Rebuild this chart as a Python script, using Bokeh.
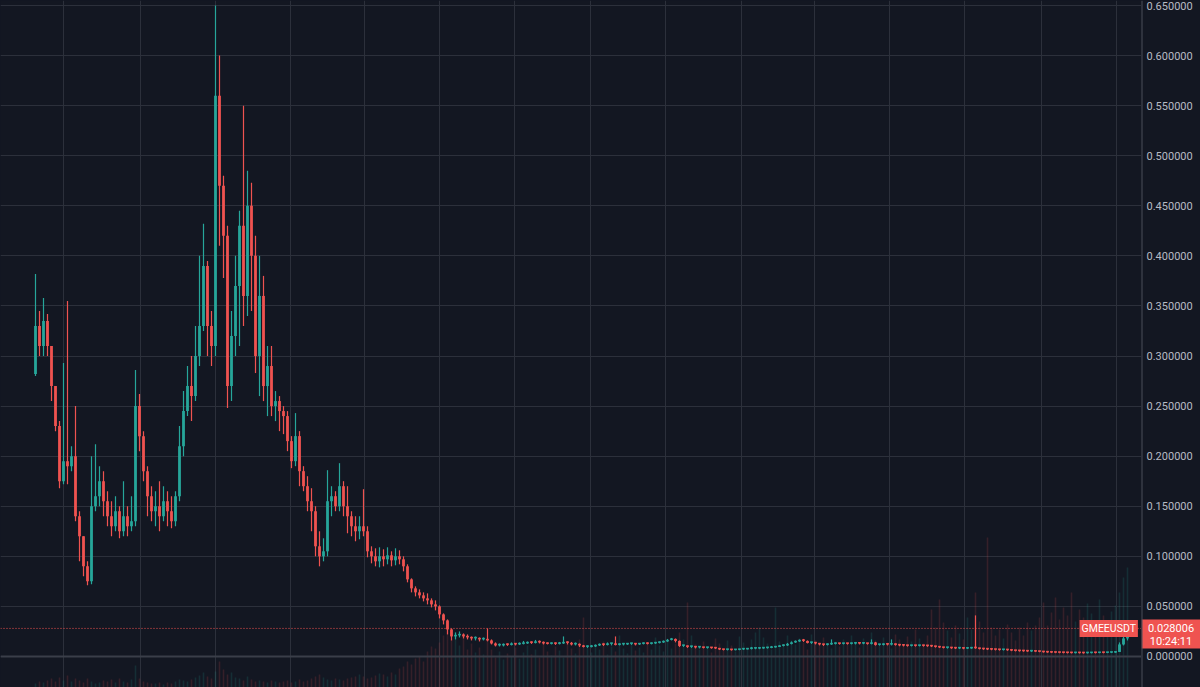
from bokeh.plotting import figure
from bokeh.layouts import row
from bokeh.models import Range1d, FixedTicker, Span, Label, ColumnDataSource
from bokeh.embed import file_html
from bokeh.resources import INLINE
from bokeh.core.properties import value

symbol = "GMEEUSDT"
last_price = 0.028006
countdown = "10:24:11"
first_open = 0.282

close = [
    0.33, 0.31, 0.335, 0.31, 0.27, 0.23, 0.175, 0.195, 0.19, 0.2,
    0.14, 0.12, 0.09, 0.075, 0.15, 0.16, 0.175, 0.155, 0.14, 0.13,
    0.145, 0.125, 0.14, 0.13, 0.135, 0.25, 0.22, 0.185, 0.16, 0.145,
    0.15, 0.14, 0.155, 0.145, 0.135, 0.16, 0.21, 0.245, 0.27, 0.26,
    0.3, 0.33, 0.39, 0.33, 0.31, 0.56, 0.47, 0.42, 0.27, 0.32,
    0.37, 0.43, 0.36, 0.45, 0.40, 0.30, 0.36, 0.27, 0.29, 0.25,
    0.255, 0.245, 0.24, 0.215, 0.195, 0.22, 0.185, 0.17, 0.155, 0.145,
    0.11, 0.1, 0.105, 0.155, 0.16, 0.15, 0.17, 0.15, 0.14, 0.13,
    0.125, 0.13, 0.125, 0.105, 0.1, 0.095, 0.1, 0.097, 0.101, 0.096,
    0.1, 0.097, 0.09, 0.077, 0.068, 0.064, 0.061, 0.058, 0.056, 0.052,
    0.05, 0.042, 0.036, 0.027, 0.02, 0.021, 0.022, 0.02, 0.019, 0.018,
    0.018, 0.017, 0.017, 0.016, 0.013, 0.011, 0.011, 0.012, 0.0115, 0.0125,
    0.012, 0.0125, 0.013, 0.014, 0.0135, 0.015, 0.014, 0.013, 0.0125, 0.013,
    0.0125, 0.013, 0.014, 0.0135, 0.012, 0.0125, 0.011, 0.0095, 0.0095, 0.01,
    0.011, 0.012, 0.0115, 0.0125, 0.0125, 0.0115, 0.012, 0.012, 0.0125, 0.0125,
    0.012, 0.0125, 0.013, 0.0125, 0.013, 0.0135, 0.014, 0.015, 0.0165, 0.0175,
    0.0155, 0.0105, 0.0105, 0.0095, 0.0095, 0.009, 0.009, 0.0085, 0.0085, 0.0083,
    0.008, 0.007, 0.0065, 0.0065, 0.0063, 0.0065, 0.007, 0.007, 0.0075, 0.0078,
    0.0078, 0.008, 0.0083, 0.0085, 0.009, 0.0095, 0.0105, 0.011, 0.0125, 0.014,
    0.015, 0.016, 0.0155, 0.0135, 0.0135, 0.013, 0.012, 0.0115, 0.012, 0.0125,
    0.013, 0.0125, 0.0128, 0.0125, 0.0128, 0.013, 0.0128, 0.013, 0.0125, 0.014,
    0.0115, 0.0115, 0.012, 0.0118, 0.0125, 0.0115, 0.011, 0.0108, 0.0105, 0.0108,
    0.0105, 0.0108, 0.0105, 0.0103, 0.01, 0.0095, 0.009, 0.0085, 0.0085, 0.0082,
    0.008, 0.008, 0.0078, 0.008, 0.0085, 0.0082, 0.0075, 0.0072, 0.007, 0.0068,
    0.0066, 0.0064, 0.0065, 0.0062, 0.0058, 0.0055, 0.0053, 0.0052, 0.005, 0.005,
    0.0048, 0.0046, 0.0042, 0.004, 0.0038, 0.0037, 0.0036, 0.0035, 0.0034, 0.0033,
    0.0034, 0.0033, 0.0032, 0.0033, 0.0035, 0.0034, 0.0036, 0.0035, 0.0037, 0.0038,
    0.0045, 0.012, 0.018, 0.028006,
]

high = [
    0.382, 0.345, 0.358, 0.342, 0.31, 0.27, 0.235, 0.293, 0.355, 0.21,
    0.25, 0.145, 0.12, 0.095, 0.2, 0.212, 0.19, 0.185, 0.165, 0.155,
    0.16, 0.15, 0.175, 0.15, 0.16, 0.286, 0.262, 0.225, 0.19, 0.17,
    0.165, 0.175, 0.17, 0.165, 0.16, 0.165, 0.23, 0.265, 0.29, 0.3,
    0.33, 0.4, 0.432, 0.395, 0.345, 0.65, 0.6, 0.48, 0.43, 0.345,
    0.4, 0.445, 0.55, 0.485, 0.473, 0.42, 0.4, 0.38, 0.31, 0.31,
    0.265, 0.26, 0.25, 0.245, 0.22, 0.243, 0.225, 0.19, 0.18, 0.168,
    0.15, 0.125, 0.118, 0.186, 0.17, 0.165, 0.193, 0.175, 0.17, 0.145,
    0.14, 0.14, 0.167, 0.13, 0.11, 0.108, 0.109, 0.107, 0.109, 0.105,
    0.108, 0.106, 0.1, 0.092, 0.078, 0.07, 0.067, 0.064, 0.063, 0.058,
    0.056, 0.051, 0.043, 0.037, 0.028, 0.024, 0.025, 0.023, 0.022, 0.02,
    0.02, 0.019, 0.019, 0.028, 0.017, 0.014, 0.013, 0.013, 0.013, 0.014,
    0.013, 0.014, 0.0155, 0.015, 0.015, 0.0165, 0.016, 0.015, 0.014, 0.014,
    0.014, 0.0145, 0.02, 0.015, 0.0145, 0.014, 0.013, 0.0115, 0.011, 0.0115,
    0.012, 0.013, 0.013, 0.014, 0.0135, 0.02, 0.013, 0.0135, 0.0135, 0.0135,
    0.0135, 0.0135, 0.014, 0.014, 0.014, 0.0145, 0.015, 0.016, 0.0175, 0.0185,
    0.018, 0.016, 0.0115, 0.011, 0.0105, 0.01, 0.0095, 0.0095, 0.0095, 0.009,
    0.009, 0.0085, 0.0075, 0.0072, 0.007, 0.007, 0.0075, 0.0078, 0.008, 0.0095,
    0.0085, 0.0087, 0.009, 0.0095, 0.0105, 0.0105, 0.0112, 0.012, 0.0135, 0.015,
    0.016, 0.017, 0.0175, 0.016, 0.0145, 0.014, 0.0135, 0.0125, 0.013, 0.017,
    0.014, 0.0135, 0.0135, 0.0135, 0.0138, 0.014, 0.0138, 0.014, 0.0135, 0.017,
    0.0145, 0.0125, 0.013, 0.0128, 0.017, 0.013, 0.0122, 0.0118, 0.0115, 0.0115,
    0.0115, 0.0115, 0.0112, 0.011, 0.011, 0.0105, 0.01, 0.0095, 0.0092, 0.009,
    0.0088, 0.0087, 0.0086, 0.0088, 0.0095, 0.041, 0.0085, 0.008, 0.0077, 0.0075,
    0.0072, 0.007, 0.0071, 0.0068, 0.0065, 0.006, 0.0058, 0.0057, 0.0055, 0.0055,
    0.0053, 0.0051, 0.0048, 0.0045, 0.0043, 0.0042, 0.004, 0.004, 0.0039, 0.0038,
    0.0038, 0.0037, 0.0037, 0.0038, 0.0039, 0.0039, 0.004, 0.004, 0.0042, 0.0043,
    0.005, 0.014, 0.021, 0.03,
]

low = [
    0.28, 0.30, 0.30, 0.30, 0.255, 0.225, 0.168, 0.172, 0.172, 0.185,
    0.135, 0.095, 0.08, 0.071, 0.072, 0.145, 0.15, 0.14, 0.13, 0.12,
    0.125, 0.118, 0.12, 0.12, 0.125, 0.13, 0.205, 0.175, 0.14, 0.135,
    0.13, 0.125, 0.135, 0.13, 0.128, 0.13, 0.155, 0.2, 0.24, 0.235,
    0.255, 0.29, 0.325, 0.3, 0.29, 0.3, 0.41, 0.378, 0.248, 0.255,
    0.3, 0.31, 0.33, 0.34, 0.345, 0.283, 0.26, 0.255, 0.24, 0.24,
    0.235, 0.225, 0.222, 0.205, 0.188, 0.19, 0.17, 0.165, 0.145, 0.125,
    0.1, 0.09, 0.095, 0.1, 0.14, 0.145, 0.145, 0.14, 0.123, 0.12,
    0.115, 0.117, 0.12, 0.099, 0.093, 0.09, 0.089, 0.09, 0.092, 0.09,
    0.091, 0.092, 0.085, 0.074, 0.064, 0.06, 0.058, 0.055, 0.052, 0.049,
    0.046, 0.038, 0.032, 0.022, 0.016, 0.017, 0.019, 0.018, 0.017, 0.016,
    0.016, 0.015, 0.016, 0.015, 0.012, 0.01, 0.01, 0.01, 0.0105, 0.011,
    0.011, 0.0115, 0.012, 0.0125, 0.0125, 0.013, 0.013, 0.012, 0.012, 0.012,
    0.0115, 0.012, 0.0125, 0.012, 0.011, 0.011, 0.0095, 0.009, 0.0085, 0.009,
    0.0095, 0.0105, 0.0105, 0.011, 0.011, 0.011, 0.011, 0.011, 0.0115, 0.0115,
    0.011, 0.0115, 0.012, 0.012, 0.012, 0.0125, 0.013, 0.0135, 0.0145, 0.016,
    0.014, 0.0095, 0.0095, 0.0085, 0.0085, 0.008, 0.008, 0.008, 0.0078, 0.0077,
    0.0075, 0.0065, 0.006, 0.006, 0.0058, 0.006, 0.0062, 0.0065, 0.007, 0.007,
    0.0072, 0.0073, 0.0077, 0.0078, 0.0082, 0.0088, 0.0095, 0.01, 0.0105, 0.012,
    0.0135, 0.0145, 0.0145, 0.013, 0.0125, 0.012, 0.011, 0.0105, 0.011, 0.0115,
    0.012, 0.0118, 0.012, 0.0118, 0.012, 0.012, 0.012, 0.0122, 0.0118, 0.012,
    0.0108, 0.0108, 0.011, 0.011, 0.011, 0.0108, 0.0102, 0.01, 0.0098, 0.01,
    0.0098, 0.01, 0.0098, 0.0096, 0.0094, 0.0088, 0.0084, 0.008, 0.0078, 0.0076,
    0.0074, 0.0074, 0.0072, 0.0074, 0.0076, 0.0076, 0.007, 0.0066, 0.0064, 0.0062,
    0.006, 0.0058, 0.0059, 0.0056, 0.0053, 0.005, 0.0048, 0.0047, 0.0046, 0.0045,
    0.0044, 0.0042, 0.0038, 0.0036, 0.0034, 0.0033, 0.0032, 0.0031, 0.003, 0.003,
    0.003, 0.0029, 0.0028, 0.0029, 0.0031, 0.003, 0.0032, 0.0031, 0.0033, 0.0034,
    0.0036, 0.0045, 0.011, 0.016,
]

volume = [
    4, 6, 5, 7, 9, 6, 10, 7, 12, 6, 9, 7, 5, 9, 6, 4, 5, 7, 6, 8, 5, 9, 6, 5, 8,
    22, 9, 6, 5, 4, 4, 5, 3, 5, 4, 6, 8, 7, 6, 8, 10, 12, 15, 11, 9, 16, 26, 18, 13, 15, 10,
    9, 7, 11, 8, 6, 7, 6, 5, 7, 6, 5, 6, 7, 5, 6, 8, 6, 7, 9, 11,
    13, 10, 8, 7, 9, 8, 7, 9, 10, 11, 13, 11, 9, 10, 12, 14, 13, 11, 15, 13,
    19, 21, 26, 23, 29, 31, 26, 36, 41, 39,
    45, 52, 60, 48, 55, 42, 50, 38, 44, 35, 40, 33, 46, 38, 30, 36, 28, 34, 31, 40,
    29, 35, 42, 33, 38, 30, 44, 36, 32, 41, 37, 30, 45, 39, 34, 48, 70, 40, 35, 43,
    38, 46, 33, 41, 36, 52, 39, 34, 44, 37,
    40, 35, 45, 38, 50, 42, 36, 47, 39, 44, 55, 48, 85, 52, 43, 38, 46, 41, 35, 49,
    44, 39, 47, 42, 36, 51, 45, 40, 48, 55, 60, 50, 44, 38, 80, 46, 41, 52, 47, 43,
    49, 45, 38, 53, 47, 42, 50, 44, 39, 46,
    41, 48, 43, 52, 46, 40, 49, 44, 55, 47, 42, 50, 45, 39, 53, 48, 43, 51, 46, 58,
    49, 44, 52, 78, 60, 88, 65, 57, 50, 62, 54, 48, 70, 58, 95, 66, 55, 150, 60, 52,
    58, 49, 63, 55, 47, 60, 52, 65, 57, 62,
    70, 85, 62, 75, 90, 68, 80, 72, 95, 66, 78, 70, 84, 74, 65, 88, 72, 60, 76, 82,
    95, 110, 120,
]

price_ticks = [0.0, 0.05, 0.10, 0.15, 0.20, 0.25, 0.30, 0.35, 0.40, 0.45, 0.50, 0.55, 0.60, 0.65]
price_labels = ["%.6f" % v for v in price_ticks]
time_grid = [7, 26.25, 45, 63.75, 82.25, 101, 119.75, 138.75, 157.5, 176.5,
             194.75, 213.5, 232.25, 251.5, 270.25]

UP = "#26a69a"
DOWN = "#ef5350"
BG = "#131722"
GRID = "#2c303b"
AXIS_TEXT = "#b8bbc4"

H = 687
y_range = Range1d(-0.031, 0.655)
ppu = H / (y_range.end - y_range.start)   # pixels per price unit

n = min(len(close), len(high), len(low), len(volume))
opens = [first_open] + close[:n - 1]
cl = close[:n]
body_bot = [min(opens[i], cl[i]) for i in range(n)]
body_top = [max(max(opens[i], cl[i]), body_bot[i] + 1.6 / ppu) for i in range(n)]
src = ColumnDataSource(dict(
    t=list(range(n)),
    hi=[max(high[i], opens[i], cl[i]) for i in range(n)],
    lo=[min(low[i], opens[i], cl[i]) for i in range(n)],
    top=body_top,
    bot=body_bot,
    vol=volume[:n],
    color=[UP if cl[i] >= opens[i] else DOWN for i in range(n)],
))

# ---------------- main price pane ----------------
p = figure(width=1141, height=H, output_backend="svg", toolbar_location=None,
           x_range=Range1d(-8.75, 276.5), y_range=y_range,
           background_fill_color=BG, border_fill_color=BG,
           min_border_left=0, min_border_right=0, min_border_top=0, min_border_bottom=0)
p.outline_line_color = None
p.xaxis.visible = False
p.yaxis.visible = False
p.xgrid.ticker = FixedTicker(ticks=time_grid)
p.xgrid.grid_line_color = GRID
p.ygrid.ticker = FixedTicker(ticks=price_ticks)
p.ygrid.grid_line_color = GRID
p.add_layout(Span(location=0.0, dimension="width", line_color="#3a3e49", line_width=2))

# volume overlay at the bottom
p.extra_y_ranges = {"vol": Range1d(0, H)}
p.vbar(x="t", width=0.4, top="vol", bottom=0, y_range_name="vol", source=src,
       fill_color="color", line_color=None, fill_alpha=0.16)

# candles: wicks and bodies
p.vbar(x="t", width=0.3, top="hi", bottom="lo", source=src,
       fill_color="color", line_color=None)
p.vbar(x="t", width=0.7, top="top", bottom="bot", source=src,
       fill_color="color", line_color=None)

# last price line + symbol tag
p.add_layout(Span(location=last_price, dimension="width", line_color=DOWN,
                  line_dash="1 2", line_width=1))
p.add_layout(Label(x=275.6, y=last_price, text=symbol, text_align="right",
                   text_baseline="middle", text_color="white",
                   text_font="Roboto", text_font_size="10.5px",
                   background_fill_color=DOWN, padding=2))

# ---------------- price scale pane ----------------
q = figure(width=59, height=H, output_backend="svg", toolbar_location=None,
           x_range=Range1d(0, 59), y_range=y_range,
           background_fill_color=BG, border_fill_color=BG,
           min_border_left=0, min_border_right=0, min_border_top=0, min_border_bottom=0)
q.outline_line_color = None
q.xaxis.visible = False
q.yaxis.visible = False
q.grid.visible = False
q.add_layout(Span(location=0, dimension="height", line_color="#4a4e59", line_width=2))
q.text(x=[5] * len(price_ticks), y=price_ticks, text=price_labels,
       text_font=value("Roboto"), text_font_size="11px", text_color=AXIS_TEXT,
       text_align="left", text_baseline="middle")

q.quad(left=[0], right=[59], top=[last_price + 9 / ppu], bottom=[last_price - 20 / ppu],
       fill_color=DOWN, line_color=None)
q.text(x=[29.5], y=[last_price], text=["%.6f" % last_price],
       text_font=value("Roboto"), text_font_size="11px", text_color="white",
       text_align="center", text_baseline="middle")
q.text(x=[29.5], y=[last_price - 13 / ppu], text=[countdown],
       text_font=value("Roboto"), text_font_size="11px", text_color="white",
       text_align="center", text_baseline="middle")

layout = row(p, q, spacing=0)
html = file_html(layout, INLINE)
html = html.replace("<head>", "<head><style>html,body{background:#131722;}</style>", 1)
open("out.html", "w").write(html)
